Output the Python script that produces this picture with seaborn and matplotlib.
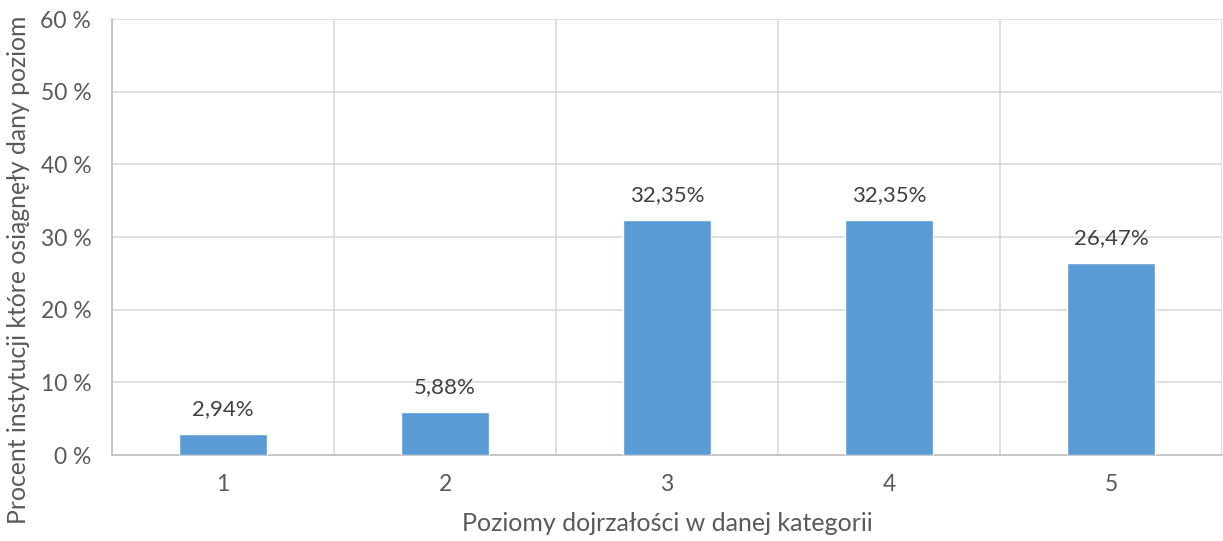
import matplotlib
matplotlib.use("Agg")
import matplotlib.pyplot as plt
import seaborn as sns
import pandas as pd
import numpy as np
from matplotlib.ticker import FixedLocator, FuncFormatter

levels = ["1", "2", "3", "4", "5"]
percent = [2.94, 5.88, 32.35, 32.35, 26.47]
yticks = [0, 10, 20, 30, 40, 50, 60]

sns.set_theme(style="white")
plt.rcParams['font.family'] = ['Lato', 'DejaVu Sans']

df = pd.DataFrame({"level": levels, "percent": percent})

fig = plt.figure(figsize=(12.23, 5.41), dpi=100)
ax = fig.add_axes([112/1223, 1-455/541, (1222-112)/1223, (455-19)/541])

sns.barplot(data=df, x="level", y="percent", color="#5B9BD5", width=0.4,
            saturation=1, ax=ax, zorder=3)

ax.set_ylim(0, 60)
ax.set_xlim(-0.5, len(levels) - 0.5)
ax.yaxis.set_major_locator(FixedLocator(yticks))
ax.yaxis.set_major_formatter(FuncFormatter(lambda v, p: f"{int(v)} %"))
ax.xaxis.set_minor_locator(FixedLocator(np.arange(-0.5, len(levels), 1.0)))
ax.grid(axis="y", which="major", color="#D9D9D9", linewidth=1.2, zorder=0)
ax.grid(axis="x", which="minor", color="#D9D9D9", linewidth=1.2, zorder=0)
ax.grid(axis="x", which="major", visible=False)
for s in ["top", "right"]:
    ax.spines[s].set_visible(False)
for s in ["left", "bottom"]:
    ax.spines[s].set_color("#BFBFBF")
    ax.spines[s].set_linewidth(1.2)
ax.tick_params(axis="both", which="both", length=0, labelsize=16.5,
               labelcolor="#595959")
ax.tick_params(axis="x", pad=14)
ax.tick_params(axis="y", pad=15)

for i, v in enumerate(percent):
    ax.annotate(f"{v:.2f}%".replace(".", ","), (i, v), xytext=(0, 18),
                textcoords="offset points", ha="center", va="center",
                fontsize=16, color="#404040")

ax.set_xlabel("Poziomy dojrzałości w danej kategorii", fontsize=18,
              color="#595959", labelpad=12)
ax.set_ylabel("Procent instytucji które osiągnęły dany poziom", fontsize=17.8,
              color="#595959")
ax.yaxis.label.set_va("center")
ax.yaxis.set_label_coords((19 - 112) / 1110, (455 - 270) / 436)

fig.savefig("out.png", dpi=100)
